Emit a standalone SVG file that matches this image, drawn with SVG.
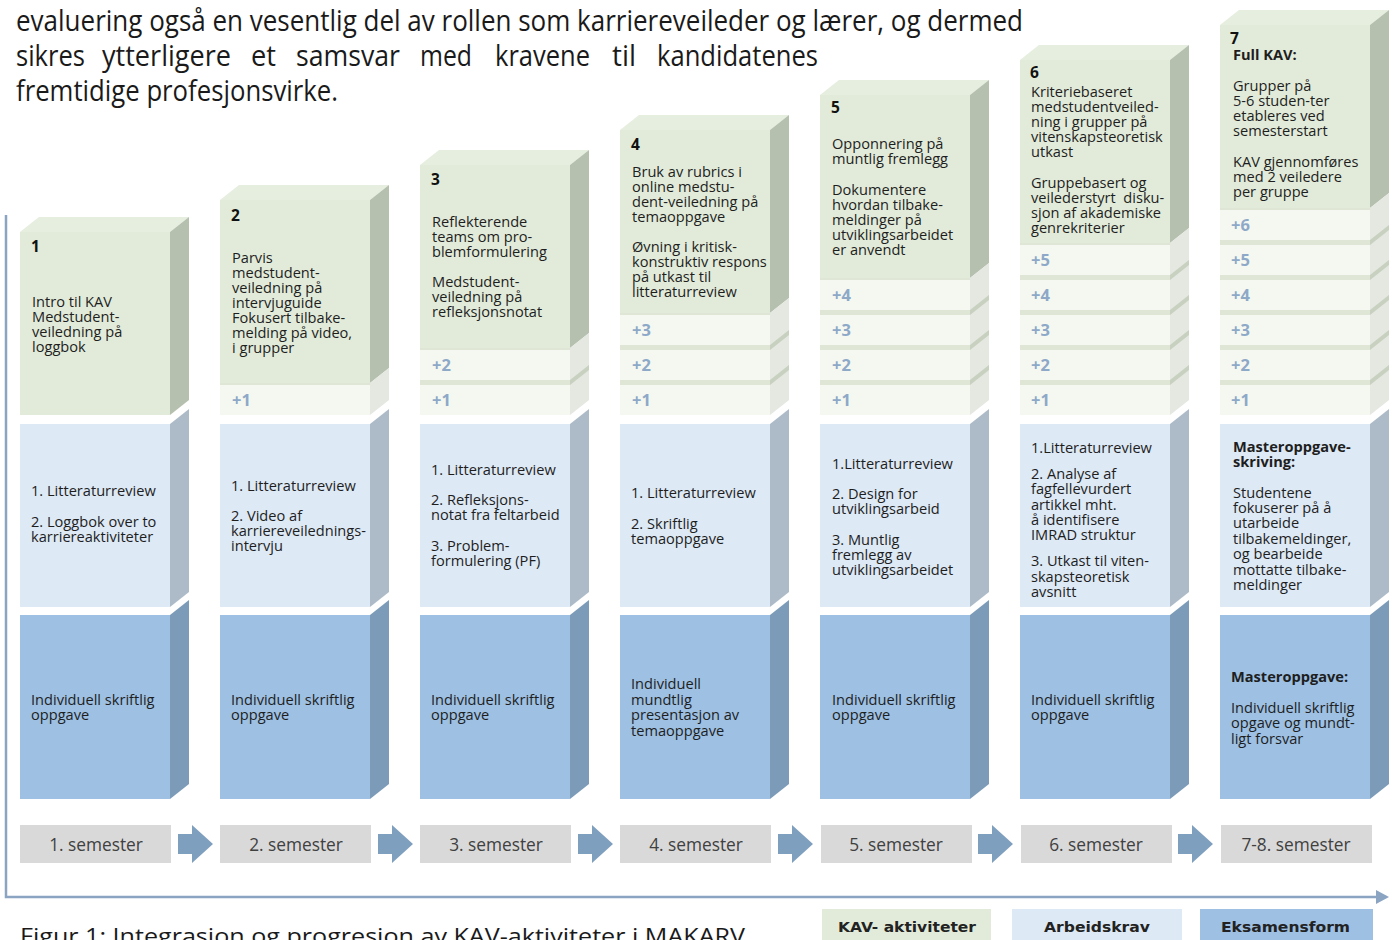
<svg xmlns="http://www.w3.org/2000/svg" width="1393" height="940" viewBox="0 0 1393 940">
<style>
.t{font-family:"Open Sans","Noto Sans",sans-serif;font-size:14.6px;fill:#1e1e1e}
.n{font-family:"Open Sans","Noto Sans",sans-serif;font-size:15.5px;font-weight:bold;fill:#111}
.bd{font-weight:bold}
.p{font-family:"Open Sans","Noto Sans",sans-serif;font-size:16.5px;font-weight:bold;fill:#8ea8c8}
.para{font-family:"Open Sans","Noto Sans",sans-serif;font-size:29px;fill:#1a1a1a}
.sem{font-family:"Open Sans","Noto Sans",sans-serif;font-size:17.3px;fill:#404040;text-anchor:middle}
.leg{font-family:"DejaVu Sans","Open Sans",sans-serif;font-size:14.5px;font-weight:bold;fill:#222}
.gf{fill:#e2ebd9}.gt{fill:#e6eedf}.gs{fill:#b5c0ae}
.bf{fill:#f4f8f1}.bdv{fill:#dfe6d6}.bs{fill:#e4e8e1}.bsd{fill:#c8d0bf}
.lf{fill:#dde9f5}.ls{fill:#adbbc8}
.df{fill:#9dc0e3}.ds{fill:#7c9bb8}
.sb{fill:#d9d9d9}
.ar{fill:#7f9fbf}
</style>

<g id="paragraph">
<text class="para" x="16" y="31" textLength="1007" lengthAdjust="spacingAndGlyphs">evaluering også en vesentlig del av rollen som karriereveileder og lærer, og dermed</text>
<text class="para" x="16" y="66" textLength="69" lengthAdjust="spacingAndGlyphs">sikres</text>
<text class="para" x="102" y="66" textLength="129" lengthAdjust="spacingAndGlyphs">ytterligere</text>
<text class="para" x="251" y="66" textLength="25" lengthAdjust="spacingAndGlyphs">et</text>
<text class="para" x="296" y="66" textLength="104" lengthAdjust="spacingAndGlyphs">samsvar</text>
<text class="para" x="420" y="66" textLength="52" lengthAdjust="spacingAndGlyphs">med</text>
<text class="para" x="495" y="66" textLength="95" lengthAdjust="spacingAndGlyphs">kravene</text>
<text class="para" x="612" y="66" textLength="24" lengthAdjust="spacingAndGlyphs">til</text>
<text class="para" x="657" y="66" textLength="161" lengthAdjust="spacingAndGlyphs">kandidatenes</text>
<text class="para" x="16" y="101" textLength="322" lengthAdjust="spacingAndGlyphs">fremtidige profesjonsvirke.</text>
</g>

<g id="connectors">
<path d="M6,215 V897 H1378" fill="none" stroke="#8aa4c2" stroke-width="2.5"/>
<polygon points="1376,890 1389,897 1376,904" fill="#8aa4c2"/>
<g class="ar">
<polygon points="178,834 192,834 192,825 213,844 192,863 192,854 178,854"/>
<polygon points="378,834 392,834 392,825 413,844 392,863 392,854 378,854"/>
<polygon points="578,834 592,834 592,825 613,844 592,863 592,854 578,854"/>
<polygon points="778,834 792,834 792,825 813,844 792,863 792,854 778,854"/>
<polygon points="978,834 992,834 992,825 1013,844 992,863 992,854 978,854"/>
<polygon points="1178,834 1192,834 1192,825 1213,844 1192,863 1192,854 1178,854"/>
</g>
</g>

<!-- Column 1 -->
<g id="kav1">
<polygon class="gt" points="20,232 39,217 189,217 170,232"/>
<rect class="gf" x="20" y="232" width="150" height="183"/>
<polygon class="gs" points="170,232 189,217 189,400 170,415"/>
<text class="n" x="31" y="252">1</text>
<text class="t"><tspan x="32" y="307">Intro til KAV</tspan><tspan x="32" y="322">Medstudent-</tspan><tspan x="32" y="337">veiledning på</tspan><tspan x="32" y="352">loggbok</tspan></text>
</g>

<!-- Column 2 -->
<g id="kav2">
<polygon class="gt" points="220,200 239,185 389,185 370,200"/>
<rect class="gf" x="220" y="200" width="150" height="183"/>
<polygon class="gs" points="370,200 389,185 389,368 370,383"/>
<rect class="bdv" x="220" y="383" width="150" height="32"/>
<polygon class="bs" points="370,383 389,368 389,400 370,415"/>
<rect class="bf" x="220" y="385" width="150" height="30"/>
<text class="p" x="232" y="406">+1</text>
<text class="n" x="231" y="221">2</text>
<text class="t"><tspan x="232" y="263">Parvis</tspan><tspan x="232" y="278">medstudent-</tspan><tspan x="232" y="293">veiledning på</tspan><tspan x="232" y="308">intervjuguide</tspan><tspan x="232" y="323">Fokusert tilbake-</tspan><tspan x="232" y="338">melding på video,</tspan><tspan x="232" y="353">i grupper</tspan></text>
</g>

<!-- Column 3 -->
<g id="kav3">
<polygon class="gt" points="420,165 439,150 589,150 570,165"/>
<rect class="gf" x="420" y="165" width="150" height="183"/>
<polygon class="gs" points="570,165 589,150 589,333 570,348"/>
<rect class="bdv" x="420" y="348" width="150" height="67"/>
<polygon class="bs" points="570,348 589,333 589,400 570,415"/>
<polygon class="bsd" points="570,380 589,365 589,370 570,385"/>
<rect class="bf" x="420" y="350" width="150" height="30"/>
<rect class="bf" x="420" y="385" width="150" height="30"/>
<text class="p" x="432" y="371">+2</text>
<text class="p" x="432" y="406">+1</text>
<text class="n" x="431" y="185">3</text>
<text class="t"><tspan x="432" y="227">Reflekterende</tspan><tspan x="432" y="242">teams om pro-</tspan><tspan x="432" y="257">blemformulering</tspan><tspan x="432" y="287">Medstudent-</tspan><tspan x="432" y="302">veiledning på</tspan><tspan x="432" y="317">refleksjonsnotat</tspan></text>
</g>

<!-- Column 4 -->
<g id="kav4">
<polygon class="gt" points="620,130 639,115 789,115 770,130"/>
<rect class="gf" x="620" y="130" width="150" height="183"/>
<polygon class="gs" points="770,130 789,115 789,298 770,313"/>
<rect class="bdv" x="620" y="313" width="150" height="102"/>
<polygon class="bs" points="770,313 789,298 789,400 770,415"/>
<polygon class="bsd" points="770,345 789,330 789,335 770,350"/>
<polygon class="bsd" points="770,380 789,365 789,370 770,385"/>
<rect class="bf" x="620" y="315" width="150" height="30"/>
<rect class="bf" x="620" y="350" width="150" height="30"/>
<rect class="bf" x="620" y="385" width="150" height="30"/>
<text class="p" x="632" y="336">+3</text>
<text class="p" x="632" y="371">+2</text>
<text class="p" x="632" y="406">+1</text>
<text class="n" x="631" y="150">4</text>
<text class="t"><tspan x="632" y="177">Bruk av rubrics i</tspan><tspan x="632" y="192">online medstu-</tspan><tspan x="632" y="207">dent-veiledning på</tspan><tspan x="632" y="222">temaoppgave</tspan><tspan x="632" y="252">Øvning i kritisk-</tspan><tspan x="632" y="267">konstruktiv respons</tspan><tspan x="632" y="282">på utkast til</tspan><tspan x="632" y="297">litteraturreview</tspan></text>
</g>

<!-- Column 5 -->
<g id="kav5">
<polygon class="gt" points="820,95 839,80 989,80 970,95"/>
<rect class="gf" x="820" y="95" width="150" height="183"/>
<polygon class="gs" points="970,95 989,80 989,263 970,278"/>
<rect class="bdv" x="820" y="278" width="150" height="137"/>
<polygon class="bs" points="970,278 989,263 989,400 970,415"/>
<polygon class="bsd" points="970,310 989,295 989,300 970,315"/>
<polygon class="bsd" points="970,345 989,330 989,335 970,350"/>
<polygon class="bsd" points="970,380 989,365 989,370 970,385"/>
<rect class="bf" x="820" y="280" width="150" height="30"/>
<rect class="bf" x="820" y="315" width="150" height="30"/>
<rect class="bf" x="820" y="350" width="150" height="30"/>
<rect class="bf" x="820" y="385" width="150" height="30"/>
<text class="p" x="832" y="301">+4</text>
<text class="p" x="832" y="336">+3</text>
<text class="p" x="832" y="371">+2</text>
<text class="p" x="832" y="406">+1</text>
<text class="n" x="831" y="113">5</text>
<text class="t"><tspan x="832" y="149">Opponnering på</tspan><tspan x="832" y="164">muntlig fremlegg</tspan><tspan x="832" y="195">Dokumentere</tspan><tspan x="832" y="210">hvordan tilbake-</tspan><tspan x="832" y="225">meldinger på</tspan><tspan x="832" y="240">utviklingsarbeidet</tspan><tspan x="832" y="255">er anvendt</tspan></text>
</g>

<!-- Column 6 -->
<g id="kav6">
<polygon class="gt" points="1020,60 1039,45 1189,45 1170,60"/>
<rect class="gf" x="1020" y="60" width="150" height="183"/>
<polygon class="gs" points="1170,60 1189,45 1189,228 1170,243"/>
<rect class="bdv" x="1020" y="243" width="150" height="172"/>
<polygon class="bs" points="1170,243 1189,228 1189,400 1170,415"/>
<polygon class="bsd" points="1170,275 1189,260 1189,265 1170,280"/>
<polygon class="bsd" points="1170,310 1189,295 1189,300 1170,315"/>
<polygon class="bsd" points="1170,345 1189,330 1189,335 1170,350"/>
<polygon class="bsd" points="1170,380 1189,365 1189,370 1170,385"/>
<rect class="bf" x="1020" y="245" width="150" height="30"/>
<rect class="bf" x="1020" y="280" width="150" height="30"/>
<rect class="bf" x="1020" y="315" width="150" height="30"/>
<rect class="bf" x="1020" y="350" width="150" height="30"/>
<rect class="bf" x="1020" y="385" width="150" height="30"/>
<text class="p" x="1031" y="266">+5</text>
<text class="p" x="1031" y="301">+4</text>
<text class="p" x="1031" y="336">+3</text>
<text class="p" x="1031" y="371">+2</text>
<text class="p" x="1031" y="406">+1</text>
<text class="n" x="1030" y="78">6</text>
<text class="t"><tspan x="1031" y="97">Kriteriebaseret</tspan><tspan x="1031" y="112">medstudentveiled-</tspan><tspan x="1031" y="127">ning i grupper på</tspan><tspan x="1031" y="142">vitenskapsteoretisk</tspan><tspan x="1031" y="157">utkast</tspan><tspan x="1031" y="188">Gruppebasert og</tspan><tspan x="1031" y="203">veilederstyrt&#160; disku-</tspan><tspan x="1031" y="218">sjon af akademiske</tspan><tspan x="1031" y="233">genrekriterier</tspan></text>
</g>

<!-- Column 7 -->
<g id="kav7">
<polygon class="gt" points="1220,25 1239,10 1389,10 1370,25"/>
<rect class="gf" x="1220" y="25" width="150" height="183"/>
<polygon class="gs" points="1370,25 1389,10 1389,193 1370,208"/>
<rect class="bdv" x="1220" y="208" width="150" height="207"/>
<polygon class="bs" points="1370,208 1389,193 1389,400 1370,415"/>
<polygon class="bsd" points="1370,240 1389,225 1389,230 1370,245"/>
<polygon class="bsd" points="1370,275 1389,260 1389,265 1370,280"/>
<polygon class="bsd" points="1370,310 1389,295 1389,300 1370,315"/>
<polygon class="bsd" points="1370,345 1389,330 1389,335 1370,350"/>
<polygon class="bsd" points="1370,380 1389,365 1389,370 1370,385"/>
<rect class="bf" x="1220" y="210" width="150" height="30"/>
<rect class="bf" x="1220" y="245" width="150" height="30"/>
<rect class="bf" x="1220" y="280" width="150" height="30"/>
<rect class="bf" x="1220" y="315" width="150" height="30"/>
<rect class="bf" x="1220" y="350" width="150" height="30"/>
<rect class="bf" x="1220" y="385" width="150" height="30"/>
<text class="p" x="1231" y="231">+6</text>
<text class="p" x="1231" y="266">+5</text>
<text class="p" x="1231" y="301">+4</text>
<text class="p" x="1231" y="336">+3</text>
<text class="p" x="1231" y="371">+2</text>
<text class="p" x="1231" y="406">+1</text>
<text class="n" x="1230" y="44">7</text>
<text class="t bd" x="1233" y="60">Full KAV:</text>
<text class="t"><tspan x="1233" y="91">Grupper på</tspan><tspan x="1233" y="106">5-6 studen-ter</tspan><tspan x="1233" y="121">etableres ved</tspan><tspan x="1233" y="136">semesterstart</tspan><tspan x="1233" y="167">KAV gjennomføres</tspan><tspan x="1233" y="182">med 2 veiledere</tspan><tspan x="1233" y="197">per gruppe</tspan></text>
</g>

<!-- Arbeidskrav row -->
<g id="krav1">
<rect class="lf" x="20" y="424" width="150" height="183"/>
<polygon class="ls" points="170,424 189,409 189,592 170,607"/>
<text class="t"><tspan x="31" y="496">1. Litteraturreview</tspan><tspan x="31" y="527">2. Loggbok over to</tspan><tspan x="31" y="542">karriereaktiviteter</tspan></text>
</g>
<g id="krav2">
<rect class="lf" x="220" y="424" width="150" height="183"/>
<polygon class="ls" points="370,424 389,409 389,592 370,607"/>
<text class="t"><tspan x="231" y="491">1. Litteraturreview</tspan><tspan x="231" y="521">2. Video af</tspan><tspan x="231" y="536">karriereveilednings-</tspan><tspan x="231" y="551">intervju</tspan></text>
</g>
<g id="krav3">
<rect class="lf" x="420" y="424" width="150" height="183"/>
<polygon class="ls" points="570,424 589,409 589,592 570,607"/>
<text class="t"><tspan x="431" y="475">1. Litteraturreview</tspan><tspan x="431" y="505">2. Refleksjons-</tspan><tspan x="431" y="520">notat fra feltarbeid</tspan><tspan x="431" y="551">3. Problem-</tspan><tspan x="431" y="566">formulering (PF)</tspan></text>
</g>
<g id="krav4">
<rect class="lf" x="620" y="424" width="150" height="183"/>
<polygon class="ls" points="770,424 789,409 789,592 770,607"/>
<text class="t"><tspan x="631" y="498">1. Litteraturreview</tspan><tspan x="631" y="529">2. Skriftlig</tspan><tspan x="631" y="544">temaoppgave</tspan></text>
</g>
<g id="krav5">
<rect class="lf" x="820" y="424" width="150" height="183"/>
<polygon class="ls" points="970,424 989,409 989,592 970,607"/>
<text class="t"><tspan x="832" y="469">1.Litteraturreview</tspan><tspan x="832" y="499">2. Design for</tspan><tspan x="832" y="514">utviklingsarbeid</tspan><tspan x="832" y="545">3. Muntlig</tspan><tspan x="832" y="560">fremlegg av</tspan><tspan x="832" y="575">utviklingsarbeidet</tspan></text>
</g>
<g id="krav6">
<rect class="lf" x="1020" y="424" width="150" height="183"/>
<polygon class="ls" points="1170,424 1189,409 1189,592 1170,607"/>
<text class="t"><tspan x="1031" y="453">1.Litteraturreview</tspan><tspan x="1031" y="479">2. Analyse af</tspan><tspan x="1031" y="494">fagfellevurdert</tspan><tspan x="1031" y="510">artikkel mht.</tspan><tspan x="1031" y="525">å identifisere</tspan><tspan x="1031" y="540">IMRAD struktur</tspan><tspan x="1031" y="566">3. Utkast til viten-</tspan><tspan x="1031" y="582">skapsteoretisk</tspan><tspan x="1031" y="597">avsnitt</tspan></text>
</g>
<g id="krav7">
<rect class="lf" x="1220" y="424" width="150" height="183"/>
<polygon class="ls" points="1370,424 1389,409 1389,592 1370,607"/>
<text class="t bd"><tspan x="1233" y="452">Masteroppgave-</tspan><tspan x="1233" y="467">skriving:</tspan></text>
<text class="t"><tspan x="1233" y="498">Studentene</tspan><tspan x="1233" y="513">fokuserer på å</tspan><tspan x="1233" y="528">utarbeide</tspan><tspan x="1233" y="544">tilbakemeldinger,</tspan><tspan x="1233" y="559">og bearbeide</tspan><tspan x="1233" y="575">mottatte tilbake-</tspan><tspan x="1233" y="590">meldinger</tspan></text>
</g>

<!-- Eksamensform row -->
<g id="eksamen1">
<rect class="df" x="20" y="615" width="150" height="184"/>
<polygon class="ds" points="170,615 189,600 189,784 170,799"/>
<text class="t"><tspan x="31" y="705">Individuell skriftlig</tspan><tspan x="31" y="720">oppgave</tspan></text>
</g>
<g id="eksamen2">
<rect class="df" x="220" y="615" width="150" height="184"/>
<polygon class="ds" points="370,615 389,600 389,784 370,799"/>
<text class="t"><tspan x="231" y="705">Individuell skriftlig</tspan><tspan x="231" y="720">oppgave</tspan></text>
</g>
<g id="eksamen3">
<rect class="df" x="420" y="615" width="150" height="184"/>
<polygon class="ds" points="570,615 589,600 589,784 570,799"/>
<text class="t"><tspan x="431" y="705">Individuell skriftlig</tspan><tspan x="431" y="720">oppgave</tspan></text>
</g>
<g id="eksamen4">
<rect class="df" x="620" y="615" width="150" height="184"/>
<polygon class="ds" points="770,615 789,600 789,784 770,799"/>
<text class="t"><tspan x="631" y="689">Individuell</tspan><tspan x="631" y="705">mundtlig</tspan><tspan x="631" y="720">presentasjon av</tspan><tspan x="631" y="736">temaoppgave</tspan></text>
</g>
<g id="eksamen5">
<rect class="df" x="820" y="615" width="150" height="184"/>
<polygon class="ds" points="970,615 989,600 989,784 970,799"/>
<text class="t"><tspan x="832" y="705">Individuell skriftlig</tspan><tspan x="832" y="720">oppgave</tspan></text>
</g>
<g id="eksamen6">
<rect class="df" x="1020" y="615" width="150" height="184"/>
<polygon class="ds" points="1170,615 1189,600 1189,784 1170,799"/>
<text class="t"><tspan x="1031" y="705">Individuell skriftlig</tspan><tspan x="1031" y="720">oppgave</tspan></text>
</g>
<g id="eksamen7">
<rect class="df" x="1220" y="615" width="150" height="184"/>
<polygon class="ds" points="1370,615 1389,600 1389,784 1370,799"/>
<text class="t bd" x="1231" y="682">Masteroppgave:</text>
<text class="t"><tspan x="1231" y="713">Individuell skriftlig</tspan><tspan x="1231" y="728">opgave og mundt-</tspan><tspan x="1231" y="744">ligt forsvar</tspan></text>
</g>

<!-- Semesters -->
<g id="sem1"><rect class="sb" x="20" y="825" width="151" height="38"/><text class="sem" x="96" y="851">1. semester</text></g>
<g id="sem2"><rect class="sb" x="220" y="825" width="151" height="38"/><text class="sem" x="296" y="851">2. semester</text></g>
<g id="sem3"><rect class="sb" x="420" y="825" width="151" height="38"/><text class="sem" x="496" y="851">3. semester</text></g>
<g id="sem4"><rect class="sb" x="620" y="825" width="151" height="38"/><text class="sem" x="696" y="851">4. semester</text></g>
<g id="sem5"><rect class="sb" x="821" y="825" width="151" height="38"/><text class="sem" x="896" y="851">5. semester</text></g>
<g id="sem6"><rect class="sb" x="1021" y="825" width="151" height="38"/><text class="sem" x="1096" y="851">6. semester</text></g>
<g id="sem7"><rect class="sb" x="1221" y="825" width="151" height="38"/><text class="sem" x="1296" y="851">7-8. semester</text></g>

<!-- Legend -->
<g id="legend-kav"><rect x="822" y="909" width="169" height="31" fill="#e2ebd9"/><text class="leg" x="838" y="932" textLength="138" lengthAdjust="spacingAndGlyphs">KAV- aktiviteter</text></g>
<g id="legend-krav"><rect x="1012" y="909" width="170" height="31" fill="#dde9f5"/><text class="leg" x="1044" y="932" textLength="106" lengthAdjust="spacingAndGlyphs">Arbeidskrav</text></g>
<g id="legend-eksamen"><rect x="1200" y="909" width="173" height="31" fill="#9dc0e3"/><text class="leg" x="1221" y="932" textLength="129" lengthAdjust="spacingAndGlyphs">Eksamensform</text></g>

<g id="caption">
<text class="para" x="20" y="944" style="font-size:22px" textLength="725" lengthAdjust="spacingAndGlyphs">Figur 1: Integrasjon og progresjon av KAV-aktiviteter i MAKARV</text>
</g>
</svg>
